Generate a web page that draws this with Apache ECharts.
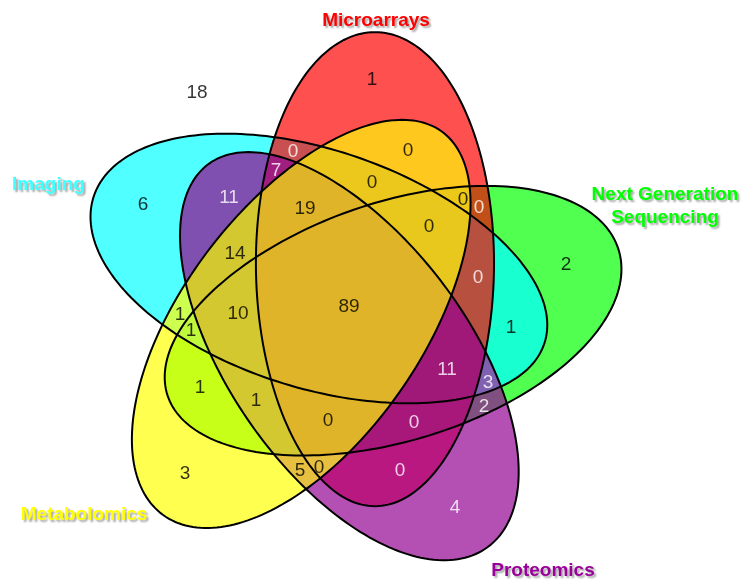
<!DOCTYPE html>
<html>
<head>
<meta charset="utf-8">
<script src="https://cdn.jsdelivr.net/npm/echarts@6/dist/echarts.min.js"></script>
<style>
  html, body { margin: 0; padding: 0; background: #fff; }
  #chart { width: 742px; height: 581px; }
</style>
</head>
<body>
<div id="chart"></div>
<script>
// sets, in drawing (rotation) order: I Imaging, M Microarrays, N Next Gen Seq, P Proteomics, B Metabolomics
const setKeys = ['I', 'M', 'N', 'P', 'B'];
const setNames = ['Imaging', 'Microarrays', 'Next Generation\nSequencing', 'Proteomics', 'Metabolomics'];

// every region of the diagram and how many items fall in it ('' = in none of the sets)
const regionKeys = ['',
  'M', 'I', 'N', 'B', 'P',
  'IM', 'IP', 'MB', 'MN', 'IN', 'IB', 'NB', 'NP', 'MP', 'PB',
  'IMP', 'IMB', 'MNB', 'IMN', 'IPB', 'INB', 'NPB', 'INP', 'MNP', 'MPB',
  'IMPB', 'IMNB', 'INPB', 'IMNP', 'MNPB',
  'IMNPB'];
const regionCounts = [18,
  1, 6, 2, 3, 4,
  0, 11, 0, 0, 1, 1, 1, 2, 0, 5,
  7, 0, 0, 0, 14, 1, 1, 3, 0, 0,
  19, 0, 10, 11, 0,
  89];

// ---- layout / style ----
const regionColors = [null,
  '#ff5050', '#50ffff', '#50ff50', '#ffff50', '#b450b4',
  '#c85050', '#8050b0', '#ffc81e', '#c05018', '#18ffd0', '#ccff50', '#c8ff18', '#805080', '#b81880', '#e8c040',
  '#a01e80', '#ecc81c', '#ecc818', '#b85040', '#d4c830', '#c0f83c', '#d4c830', '#8060b0', '#a8187a', '#e8c040',
  '#e0b428', '#e8c81c', '#d4c830', '#a01878', '#e0b428',
  '#e0b428'];
const whiteText = ['IM', 'IP', 'IMP', 'MN', 'IMN', 'IMNP', 'INP', 'NP', 'MNP', 'MP', 'P'];
const labelAnchors = [[197, 93],
  [372, 80], [143, 205], [566, 265], [185, 474], [455, 508],
  [293, 152], [229, 198], [408, 151], [479, 208], [511, 328], [180, 315], [200, 388], [484, 407], [400, 471], [300, 471],
  [276, 171], [372, 183], [463, 200], [478, 278], [235, 254], [191, 331], [256, 401], [488, 383], [414, 423], [319, 468],
  [305, 209], [429, 227], [238, 314], [447, 370], [328, 421],
  [349, 307]];

// the five shapes are one slightly egg-like ellipse turned by 72 degrees around a common centre;
// the outer end (negative u) is a little longer and fatter
const symCenter = [347.5, 308];
const baseOffset = [-27.5, -37.8];
const baseAngle = 18;
const semiAOut = 238, semiAIn = 236, semiB = 119, eggFactor = 0.03;
const N = 220;

function ellipsePoly(k) {
  const ang = k * 72 * Math.PI / 180;
  const c = Math.cos(ang), s = Math.sin(ang);
  const cx = symCenter[0] + baseOffset[0] * c - baseOffset[1] * s;
  const cy = symCenter[1] + baseOffset[0] * s + baseOffset[1] * c;
  const phi = (baseAngle + k * 72) * Math.PI / 180;
  const pts = [];
  for (let i = 0; i < N; i++) {
    const t = 2 * Math.PI * i / N;
    const ct = Math.cos(t);
    const x = (ct < 0 ? semiAOut : semiAIn) * ct;
    const y = semiB * Math.sin(t) * (1 - eggFactor * ct);
    pts.push([cx + x * Math.cos(phi) - y * Math.sin(phi), cy + x * Math.sin(phi) + y * Math.cos(phi)]);
  }
  return pts;
}

function area(poly) {
  let s = 0;
  for (let i = 0; i < poly.length; i++) {
    const p = poly[i], q = poly[(i + 1) % poly.length];
    s += p[0] * q[1] - q[0] * p[1];
  }
  return s / 2;
}

function intersect(p, q, a, b) {
  const dx = q[0] - p[0], dy = q[1] - p[1];
  const ex = b[0] - a[0], ey = b[1] - a[1];
  const t = ((a[0] - p[0]) * ey - (a[1] - p[1]) * ex) / (dx * ey - dy * ex);
  return [p[0] + t * dx, p[1] + t * dy];
}

// Sutherland-Hodgman, the clip polygon is convex
function clip(subject, clipPoly) {
  const sgn = area(clipPoly) > 0 ? 1 : -1;
  let out = subject;
  for (let i = 0; i < clipPoly.length && out.length; i++) {
    const a = clipPoly[i], b = clipPoly[(i + 1) % clipPoly.length];
    const inside = p => sgn * ((b[0] - a[0]) * (p[1] - a[1]) - (b[1] - a[1]) * (p[0] - a[0])) >= 0;
    const inp = out;
    out = [];
    for (let j = 0; j < inp.length; j++) {
      const P = inp[j], Q = inp[(j + 1) % inp.length];
      const pi = inside(P), qi = inside(Q);
      if (pi) out.push(P);
      if (pi !== qi) out.push(intersect(P, Q, a, b));
    }
  }
  return out;
}

const ellipses = setKeys.map((k, i) => ellipsePoly(i));

// intersection of every combination; painting them from small to large combos
// leaves each region in its own colour
const regionPolys = regionKeys.map(key => {
  if (!key) return [];
  const idx = key.split('').map(ch => setKeys.indexOf(ch));
  let poly = ellipses[idx[0]];
  for (let j = 1; j < idx.length; j++) poly = clip(poly, ellipses[idx[j]]);
  return poly;
});
const paintOrder = regionKeys.map((k, i) => i)
  .filter(i => regionKeys[i])
  .sort((a, b) => regionKeys[a].length - regionKeys[b].length);

const chart = echarts.init(document.getElementById('chart'));

const labelFont = "'Liberation Sans', Arial, sans-serif";
const setLabelStyle = [
  {pos: [48.5, 185], color: '#40ffff'},
  {pos: [376, 21], color: '#ff0000'},
  {pos: [665, 206], color: '#00ff00'},
  {pos: [543, 570.5], color: '#990099'},
  {pos: [84, 515], color: '#ffff00'}
];

chart.setOption({
  animation: false,
  grid: {left: 0, right: 0, top: 0, bottom: 0},
  xAxis: {type: 'value', min: 0, max: 742, show: false},
  yAxis: {type: 'value', min: 0, max: 581, inverse: true, show: false},
  graphic: setNames.map((name, i) => ({
    type: 'text',
    x: setLabelStyle[i].pos[0],
    y: setLabelStyle[i].pos[1],
    z: 10,
    style: {
      text: name,
      align: 'center',
      verticalAlign: 'middle',
      font: 'bold 19px ' + labelFont,
      lineHeight: 23,
      fill: setLabelStyle[i].color,
      textShadowColor: 'rgba(0,0,0,0.35)',
      textShadowBlur: 2,
      textShadowOffsetX: 2,
      textShadowOffsetY: 2
    }
  })),
  series: [
    {
      type: 'custom',
      z: 1,
      data: paintOrder.map(i => [i, 0]),
      renderItem: (params, api) => {
        const i = api.value(0);
        return {
          type: 'polygon',
          shape: {points: regionPolys[i].map(p => api.coord(p))},
          style: {fill: regionColors[i]}
        };
      }
    },
    {
      type: 'custom',
      z: 2,
      data: setKeys.map((k, i) => [i, 0]),
      renderItem: (params, api) => {
        const i = api.value(0);
        return {
          type: 'polygon',
          shape: {points: ellipses[i].map(p => api.coord(p))},
          style: {fill: 'none', stroke: '#000', lineWidth: 2}
        };
      }
    },
    {
      type: 'scatter',
      z: 3,
      symbolSize: 1,
      itemStyle: {color: 'rgba(0,0,0,0)'},
      label: {
        show: true,
        position: 'inside',
        fontSize: 19,
        fontFamily: labelFont,
        formatter: p => String(p.value[2])
      },
      data: regionKeys.map((key, i) => ({
        value: [labelAnchors[i][0], labelAnchors[i][1], regionCounts[i]],
        label: {color: whiteText.indexOf(key) >= 0 ? '#fff' : '#000'}
      }))
    }
  ]
});
</script>
</body>
</html>
